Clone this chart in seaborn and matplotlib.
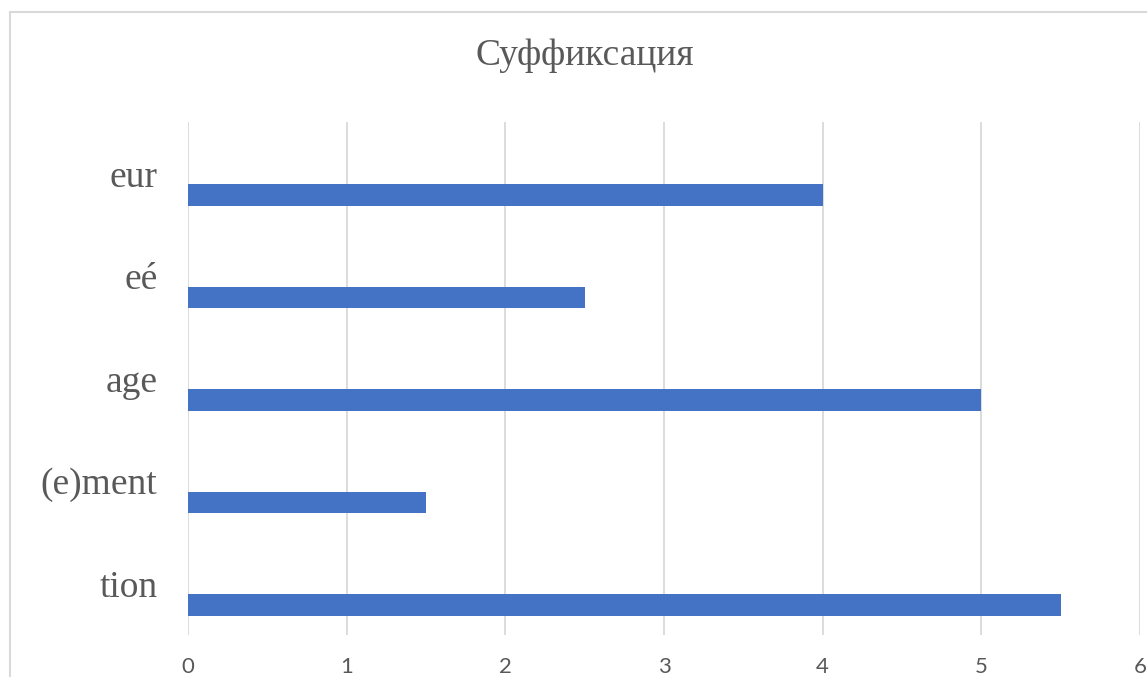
import seaborn as sns
import matplotlib.pyplot as plt
import pandas as pd
from matplotlib.patches import Rectangle

# data (top to bottom)
suffixes = ['eur', 'eé', 'age', '(e)ment', 'tion']
counts = [4, 2.5, 5, 1.5, 5.5]
x_ticks = [0, 1, 2, 3, 4, 5, 6]
title = 'Суффиксация'

bar_color = '#4472C4'
text_color = '#595959'
grid_color = '#D9D9D9'

sns.set_theme(style='white')
plt.rcParams['font.family'] = ['Liberation Serif', 'DejaVu Serif']

# empty spacer series so the real bar sits below each label, like the Excel chart
df = pd.DataFrame({
    'suffix': suffixes * 2,
    'value': [0] * len(counts) + counts,
    'series': ['spacer'] * len(counts) + ['Ряд1'] * len(counts),
})

fig = plt.figure(figsize=(11.47, 6.77), dpi=100)
ax = fig.add_axes([0.1639, 0.062, 0.83, 0.7578])

sns.barplot(data=df, x='value', y='suffix', hue='series',
            hue_order=['spacer', 'Ряд1'],
            palette={'spacer': 'white', 'Ряд1': bar_color},
            order=suffixes, width=0.84, gap=0.5, linewidth=0,
            saturation=1, errorbar=None, legend=False, ax=ax)

ax.set_xlim(0, 6)
ax.set_ylim(len(suffixes) - 0.5, -0.5)
ax.set_xticks(x_ticks)
ax.set_xticklabels([str(t) for t in x_ticks], family=['Lato', 'DejaVu Sans'],
                   fontsize=16, color=text_color)
ax.tick_params(axis='x', length=0, pad=16)
ax.tick_params(axis='y', length=0, pad=22, labelsize=27, labelcolor=text_color)
ax.set_xlabel('')
ax.set_ylabel('')
ax.grid(axis='x', color=grid_color, linewidth=1.3)
ax.grid(axis='y', visible=False)
ax.set_axisbelow(True)
for s in ax.spines.values():
    s.set_visible(False)

fig.text(585 / 1147, 1 - 56 / 677, title, ha='center', va='center',
         fontsize=27, color=text_color)

# chart frame
fig.patches.append(Rectangle((10 / 1147, -0.1), 1.2, 1 - 12 / 677 + 0.1,
                             transform=fig.transFigure, fill=False,
                             edgecolor=grid_color, linewidth=1.5))

fig.savefig('out.png', dpi=100)
